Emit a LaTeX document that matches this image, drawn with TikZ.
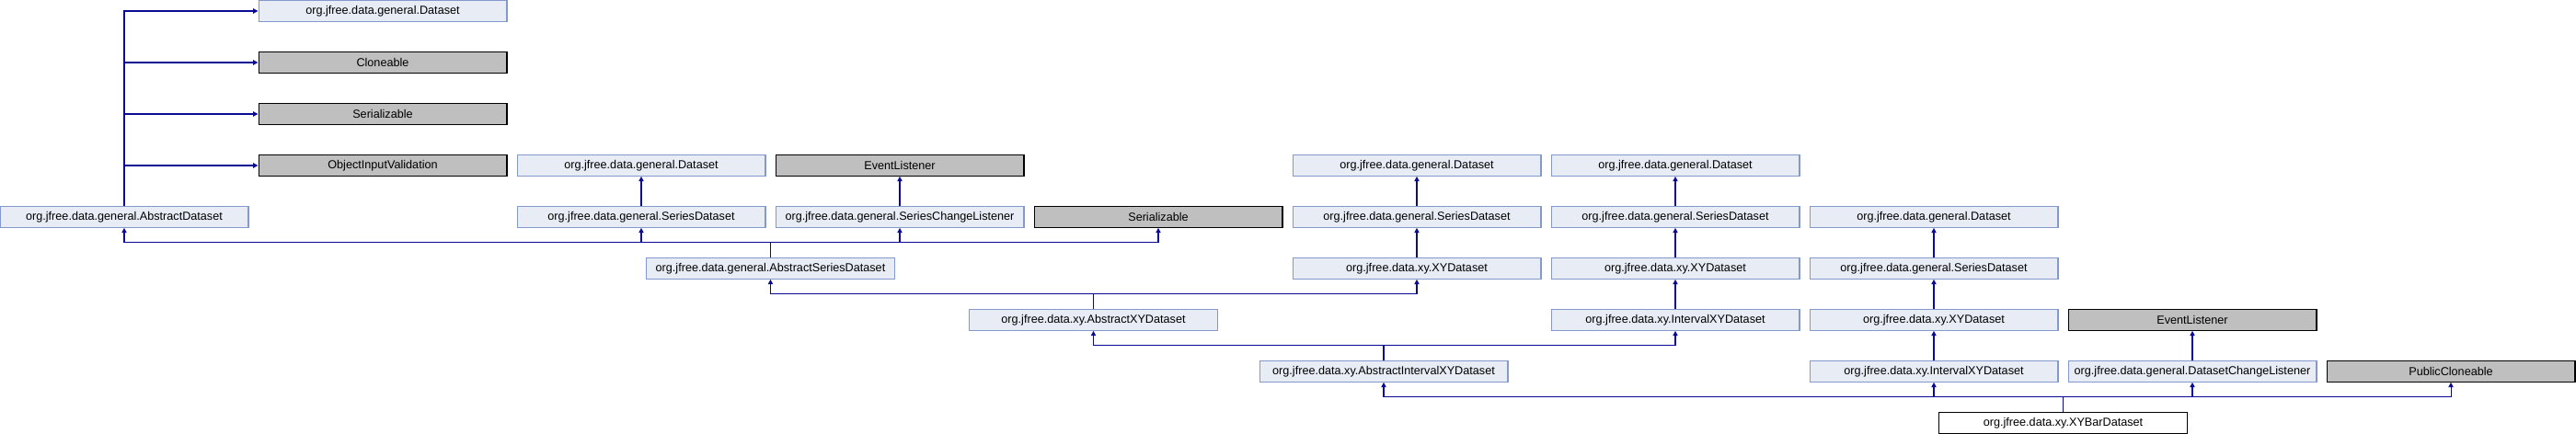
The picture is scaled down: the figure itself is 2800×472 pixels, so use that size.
\documentclass[tikz,border=0pt]{standalone}
\usepackage{fontspec}
\setmainfont{Liberation Sans}
\usetikzlibrary{arrows.meta}

\definecolor{linkblue}{RGB}{10,10,150}
\definecolor{boxfill}{RGB}{232,236,245}
\definecolor{boxline}{RGB}{132,152,204}
\definecolor{extfill}{RGB}{191,191,191}

\tikzset{
  cls/.style={draw=boxline, fill=boxfill, line width=0.6pt, minimum width=5.4cm,
    minimum height=0.454cm, inner sep=0pt, font=\fontsize{7.2}{8}\selectfont},
  extcls/.style={cls, draw=black, fill=extfill},
  maincls/.style={cls, draw=black, fill=white},
  inh/.style={linkblue, line width=0.6pt, -{Triangle[length=3pt,width=3pt]}}
}

\begin{document}
\begin{tikzpicture}[x=0.02cm, y=-0.02cm]
  \useasboundingbox (0,0) rectangle (2800,472);
  % rows 1-4
  \node[cls] (gds1) at (416,12) {org.jfree.data.general.Dataset};
  \node[extcls] (clo) at (416,68) {Cloneable};
  \node[extcls] (ser1) at (416,124) {Serializable};
  \node[extcls] (oiv) at (416,180) {ObjectInputValidation};
  \node[cls] (gds2) at (697,180) {org.jfree.data.general.Dataset};
  \node[extcls] (evl1) at (978,180) {EventListener};
  \node[cls] (gds3) at (1540,180) {org.jfree.data.general.Dataset};
  \node[cls] (gds4) at (1821,180) {org.jfree.data.general.Dataset};
  % row 5
  \node[cls] (ad) at (135,236) {org.jfree.data.general.AbstractDataset};
  \node[cls] (sds1) at (697,236) {org.jfree.data.general.SeriesDataset};
  \node[cls] (scl) at (978,236) {org.jfree.data.general.SeriesChangeListener};
  \node[extcls] (ser2) at (1259,236) {Serializable};
  \node[cls] (sds2) at (1540,236) {org.jfree.data.general.SeriesDataset};
  \node[cls] (sds3) at (1821,236) {org.jfree.data.general.SeriesDataset};
  \node[cls] (gds5) at (2102,236) {org.jfree.data.general.Dataset};
  % row 6
  \node[cls] (asd) at (837.5,292) {org.jfree.data.general.AbstractSeriesDataset};
  \node[cls] (xyd1) at (1540,292) {org.jfree.data.xy.XYDataset};
  \node[cls] (xyd2) at (1821,292) {org.jfree.data.xy.XYDataset};
  \node[cls] (sds4) at (2102,292) {org.jfree.data.general.SeriesDataset};
  % row 7
  \node[cls] (axyd) at (1188.5,348) {org.jfree.data.xy.AbstractXYDataset};
  \node[cls] (ixyd1) at (1821,348) {org.jfree.data.xy.IntervalXYDataset};
  \node[cls] (xyd3) at (2102,348) {org.jfree.data.xy.XYDataset};
  \node[extcls] (evl2) at (2383,348) {EventListener};
  % row 8
  \node[cls] (aixyd) at (1504,404) {org.jfree.data.xy.AbstractIntervalXYDataset};
  \node[cls] (ixyd2) at (2102,404) {org.jfree.data.xy.IntervalXYDataset};
  \node[cls] (dcl) at (2383,404) {org.jfree.data.general.DatasetChangeListener};
  \node[extcls] (pcl) at (2664,404) {PublicCloneable};
  % row 9
  \node[maincls] (xybar) at (2242.5,460) {org.jfree.data.xy.XYBarDataset};

  \draw[inh] (ad.north) |- (gds1.west);
  \draw[inh] (ad.north) |- (clo.west);
  \draw[inh] (ad.north) |- (ser1.west);
  \draw[inh] (ad.north) |- (oiv.west);
  \draw[inh] (sds1.north) -- (gds2.south);
  \draw[inh] (scl.north) -- (evl1.south);
  \draw[inh] (asd.north) -- ++(0,-16.85) -| (ad.south);
  \draw[inh] (asd.north) -- ++(0,-16.85) -| (sds1.south);
  \draw[inh] (asd.north) -- ++(0,-16.85) -| (scl.south);
  \draw[inh] (asd.north) -- ++(0,-16.85) -| (ser2.south);
  \draw[inh] (xyd1.north) -- (sds2.south);
  \draw[inh] (sds2.north) -- (gds3.south);
  \draw[inh] (axyd.north) -- ++(0,-16.85) -| (asd.south);
  \draw[inh] (axyd.north) -- ++(0,-16.85) -| (xyd1.south);
  \draw[inh] (ixyd1.north) -- (xyd2.south);
  \draw[inh] (xyd2.north) -- (sds3.south);
  \draw[inh] (sds3.north) -- (gds4.south);
  \draw[inh] (aixyd.north) -- ++(0,-16.85) -| (axyd.south);
  \draw[inh] (aixyd.north) -- ++(0,-16.85) -| (ixyd1.south);
  \draw[inh] (ixyd2.north) -- (xyd3.south);
  \draw[inh] (xyd3.north) -- (sds4.south);
  \draw[inh] (sds4.north) -- (gds5.south);
  \draw[inh] (dcl.north) -- (evl2.south);
  \draw[inh] (xybar.north) -- ++(0,-16.85) -| (aixyd.south);
  \draw[inh] (xybar.north) -- ++(0,-16.85) -| (ixyd2.south);
  \draw[inh] (xybar.north) -- ++(0,-16.85) -| (dcl.south);
  \draw[inh] (xybar.north) -- ++(0,-16.85) -| (pcl.south);
\end{tikzpicture}
\end{document}
